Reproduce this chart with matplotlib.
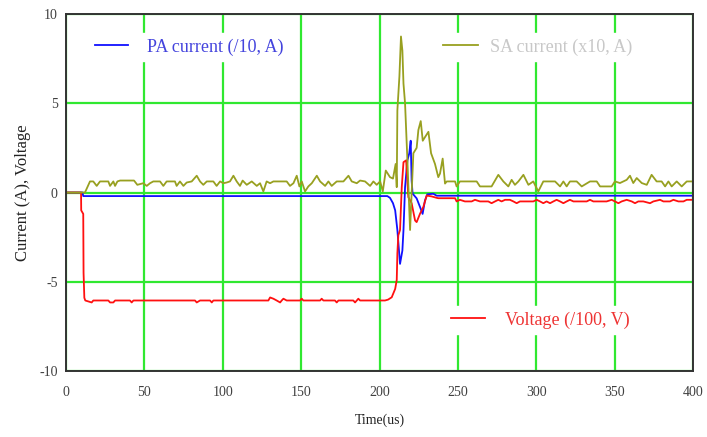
import matplotlib
matplotlib.use("Agg")
import matplotlib.pyplot as plt

# PA current (/10, A) - blue
t_pa = [0, 10.5, 11.0, 205.0, 206.7, 208.6, 210.0, 211.4, 213.1, 214.6, 215.3, 216.3,
        217.8, 219.0, 219.9, 220.5, 221.1, 223.7, 225.8, 227.5, 229.0, 230.5, 234.3,
        236.5, 400]
pa = [0, 0, -0.2, -0.2, -0.3, -0.6, -1.0, -2.1, -4.0, -3.25, -2.1, 0.3,
      1.8, 2.2, 2.9, 0.67, -0.06, -0.33, -0.8, -1.2, -0.45, -0.1, -0.07,
      -0.18, -0.18]

# Voltage (/100, V) - red
t_v = [0, 9.6, 9.7, 11.0, 11.2, 11.7, 12.3, 16.4, 17.4, 27.0, 28.1, 30.2, 31.3, 40.8,
       41.9, 43.0, 82.3, 83.4, 85.5, 91.9, 93.0, 94.0, 129.1, 130.2, 132.3, 134.4,
       136.6, 137.6, 138.7, 140.8, 149.3, 150.4, 151.4, 162.1, 163.1, 164.2, 171.6,
       172.7, 173.8, 183.3, 184.4, 185.5, 186.5, 187.6, 203.5, 205.5, 207.8, 210.0,
       211.0, 211.4, 212.0, 213.1, 214.2, 215.3, 217.0, 218.4, 220.5, 222.7, 223.7,
       225.8, 228.0, 230.1, 233.3, 236.5, 237.5, 248.2, 249.2, 251.3, 254.5, 258.8,
       260.9, 264.1, 269.4, 271.5, 273.7, 275.8, 277.9, 280.1, 283.2, 285.4, 287.5,
       289.6, 298.1, 300.3, 302.4, 304.5, 306.6, 308.8, 310.9, 313.0, 315.2, 317.3,
       319.4, 321.5, 323.7, 332.2, 334.3, 336.4, 344.9, 348.1, 350.2, 352.4, 354.5,
       357.7, 360.9, 363.0, 365.1, 368.3, 372.6, 374.7, 379.0, 381.1, 385.3, 387.5,
       390.7, 393.9, 396.0, 400]
volt = [0, 0, -1.0, -1.2, -4.5, -5.9, -6.05, -6.16, -6.05, -6.05, -6.16, -6.16, -6.05, -6.05,
        -6.16, -6.05, -6.05, -6.16, -6.05, -6.05, -6.16, -6.05, -6.05, -5.88, -5.95, -6.05,
        -6.16, -6.05, -5.95, -6.05, -6.05, -5.95, -6.05, -6.05, -5.95, -6.05, -6.05,
        -6.16, -6.05, -6.05, -6.16, -6.05, -5.95, -6.05, -6.05, -6.0, -5.87, -5.4,
        -4.9, -3.4, -2.4, -2.1, 0.3, 1.7, 1.8, -0.26, -0.6, -1.57, -1.66,
        -1.2, -0.8, -0.17, -0.22, -0.3, -0.32, -0.32, -0.5, -0.41, -0.5, -0.5,
        -0.41, -0.5, -0.5, -0.6, -0.5, -0.41, -0.5, -0.41, -0.41, -0.5, -0.6,
        -0.5, -0.5, -0.41, -0.5, -0.6, -0.5, -0.6, -0.5, -0.41, -0.5, -0.6,
        -0.5, -0.41, -0.5, -0.5, -0.41, -0.5, -0.5, -0.41, -0.5, -0.6, -0.5,
        -0.41, -0.5, -0.6, -0.5, -0.5, -0.6, -0.5, -0.41, -0.5, -0.5, -0.41,
        -0.5, -0.5, -0.41, -0.41]

# SA current (x10, A) - olive
t_sa = [0, 10.5, 12.1, 15.3, 17.4, 19.6, 21.7, 27.0, 28.1, 30.2, 31.3, 32.8, 34.5, 43.4,
        45.5, 49.3, 51.5, 53.6, 55.7, 60.0, 62.1, 64.2, 69.5, 70.6, 72.7, 74.9, 77.0,
        80.2, 83.4, 85.5, 87.6, 89.8, 94.0, 96.1, 98.3, 100.4, 102.5, 104.6, 106.8,
        108.9, 111.0, 112.7, 115.3, 118.5, 121.7, 123.8, 125.9, 128.0, 130.2, 132.3,
        140.8, 142.9, 145.1, 147.2, 148.9, 150.4, 152.5, 154.6, 156.8, 160.0, 162.1,
        165.3, 167.4, 169.5, 172.7, 177.0, 180.2, 182.3, 185.5, 187.6, 190.8, 194.0,
        196.1, 198.2, 200.4, 202.1, 204.0, 206.7, 208.6, 210.3, 211.0, 211.4, 212.7,
        213.7, 214.6, 215.3, 216.3, 217.0, 217.8, 219.5, 221.6, 223.7, 224.8, 226.3,
        227.6, 229.0, 231.2, 232.9, 235.4, 237.5, 238.6, 240.3, 241.8, 242.9, 248.2,
        249.2, 251.3, 262.0, 264.1, 271.5, 275.8, 279.0, 282.2, 284.3, 286.4, 288.6,
        291.8, 295.0, 298.1, 301.3, 304.5, 312.0, 315.2, 317.3, 319.4, 321.5, 325.8,
        329.0, 334.3, 338.6, 340.7, 348.1, 350.2, 353.4, 357.7, 359.8, 361.9, 364.1,
        367.3, 370.5, 373.6, 376.8, 380.0, 382.2, 384.3, 386.4, 389.6, 392.8, 396.0,
        400]
sa = [0, 0, 0.0, 0.62, 0.62, 0.37, 0.62, 0.62, 0.37, 0.62, 0.37, 0.62, 0.67, 0.67,
      0.43, 0.52, 0.37, 0.52, 0.62, 0.62, 0.37, 0.62, 0.62, 0.37, 0.62, 0.37, 0.56,
      0.62, 0.94, 0.62, 0.43, 0.62, 0.62, 0.37, 0.62, 0.52, 0.56, 0.62, 0.94,
      0.62, 0.37, 0.67, 0.43, 0.62, 0.37, 0.52, 0.06, 0.62, 0.52, 0.62,
      0.62, 0.37, 0.52, 0.94, 0.34, 0.62, 0.06, 0.34, 0.52, 0.94, 0.62,
      0.37, 0.62, 0.37, 0.62, 0.62, 0.94, 0.62, 0.52, 0.67, 0.62, 0.37,
      0.62, 0.43, 0.62, 0.06, 1.23, 0.86, 0.78, 1.6, 0.3, 4.6, 6.5,
      8.74, 7.95, 6.1, 5.0, 3.5, 1.8, -2.1, 2.2, 2.5, 3.5, 4.0,
      2.9, 3.1, 3.4, 2.2, 1.6, 0.86, 1.06, 1.9, 0.5, 0.62, 0.62,
      0.34, 0.62, 0.62, 0.34, 0.34, 0.99, 0.62, 0.34, 0.71, 0.43, 0.62,
      0.99, 0.43, 0.62, 0.06, 0.62, 0.62, 0.34, 0.62, 0.34, 0.62, 0.62,
      0.34, 0.62, 0.62, 0.34, 0.34, 0.62, 0.53, 0.71, 0.94, 0.53, 0.81,
      0.53, 0.43, 0.99, 0.62, 0.62, 0.34, 0.62, 0.34, 0.62, 0.34, 0.62,
      0.62]

xticks = [0, 50, 100, 150, 200, 250, 300, 350, 400]
yticks = [-10, -5, 0, 5, 10]

serif = "Liberation Serif"

fig = plt.figure(figsize=(7.07, 4.37), dpi=100)
ax = fig.add_axes([66 / 707, 1 - 371 / 437, 627 / 707, 357 / 437])

l_pa, = ax.plot(t_pa, pa, color="#1010ff", lw=1.3, zorder=3)
l_v, = ax.plot(t_v, volt, color="#ff1010", lw=1.3, zorder=3)
l_sa, = ax.plot(t_sa, sa, color="#98a020", lw=1.3, zorder=4)

ax.set_xlim(0, 400)
ax.set_ylim(-10, 10)
ax.set_xticks(xticks)
ax.set_yticks(yticks)
ax.set_xticklabels([str(v) for v in xticks], family=serif, fontsize=10, color="#404040")
ax.set_yticklabels([str(v) for v in yticks], family=serif, fontsize=10, color="#404040")
ax.tick_params(length=0)
ax.tick_params(axis="x", pad=11)
ax.tick_params(axis="y", pad=6)
ax.grid(True, color="#30e830", lw=1.6)
ax.set_axisbelow(True)
for s in ax.spines.values():
    s.set_color("#333333")
    s.set_linewidth(1.4)
    s.set_zorder(5)

ax.set_xlabel("Time(us)", family=serif, fontsize=10, color="#222222", labelpad=10)
ax.set_ylabel("Current (A), Voltage", family=serif, fontsize=12, color="#222222", labelpad=6)

prop = {"family": serif, "size": 13}
common = dict(loc="center left", frameon=True, framealpha=1, facecolor="white",
              edgecolor="white", fancybox=False, borderpad=0.3, borderaxespad=0, prop=prop)
leg1 = ax.legend([l_pa], ["PA current (/10, A)"], bbox_to_anchor=(0.0376, 0.9076),
                 handlelength=1.83, handletextpad=1.05, labelcolor="#4444dd", **common)
ax.add_artist(leg1)
leg2 = ax.legend([l_sa], ["SA current (x10, A)"], bbox_to_anchor=(0.593, 0.9076),
                 handlelength=1.94, handletextpad=0.66, labelcolor="#c8c8c8", **common)
ax.add_artist(leg2)
leg3 = ax.legend([l_v], ["Voltage (/100, V)"], bbox_to_anchor=(0.605, 0.143),
                 handlelength=1.9, handletextpad=1.1, labelcolor="#ee3333", **common)

fig.savefig("out.png", dpi=100)
